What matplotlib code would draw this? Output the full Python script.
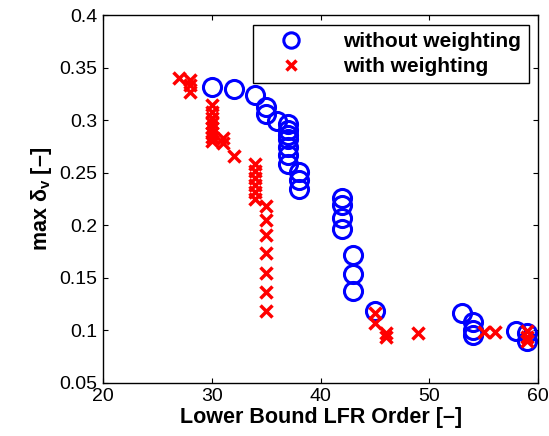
import numpy as np
import matplotlib.pyplot as plt

plt.rcParams['font.family'] = ['Liberation Sans', 'DejaVu Sans']
plt.rcParams['mathtext.fontset'] = 'custom'
plt.rcParams['mathtext.rm'] = 'Liberation Sans:bold'
plt.rcParams['mathtext.it'] = 'Liberation Sans:bold'
plt.rcParams['mathtext.bf'] = 'Liberation Sans:bold'

# without weighting (blue circles)
x_without = [30, 32, 34, 35, 35, 36,
             37, 37, 37, 37, 37, 37, 37,
             38, 38, 38,
             42, 42, 42, 42,
             43, 43, 43,
             45, 53, 54, 54, 54, 58, 59, 59]
y_without = [0.332, 0.330, 0.324, 0.313, 0.306, 0.299,
             0.296, 0.291, 0.286, 0.282, 0.275, 0.267, 0.258,
             0.251, 0.243, 0.235,
             0.226, 0.219, 0.207, 0.196,
             0.172, 0.154, 0.137,
             0.118, 0.116, 0.108, 0.100, 0.096, 0.099, 0.097, 0.090]

# with weighting (red crosses)
x_with = [27, 28, 28, 28,
          30, 30, 30, 30, 30, 30, 30, 30,
          31, 31, 32,
          34, 34, 34, 34, 34, 34,
          35, 35, 35, 35, 35, 35, 35,
          45, 45, 46, 46, 49, 55, 56, 59, 59, 59]
y_with = [0.340, 0.338, 0.334, 0.327,
          0.315, 0.308, 0.302, 0.297, 0.293, 0.288, 0.284, 0.280,
          0.283, 0.278, 0.266,
          0.258, 0.252, 0.245, 0.238, 0.232, 0.225,
          0.218, 0.205, 0.191, 0.174, 0.155, 0.136, 0.118,
          0.116, 0.107, 0.097, 0.094, 0.097, 0.098, 0.098, 0.099, 0.094, 0.090]

fig = plt.figure(figsize=(5.49, 4.36), dpi=100)
ax = fig.add_axes([0.188, 0.122, 0.792, 0.843])

ax.plot(x_without, y_without, 'o', color='blue', markerfacecolor='none',
        markersize=13, markeredgewidth=2.2, label='without weighting')
ax.plot(x_with, y_with, 'x', color='red',
        markersize=8, markeredgewidth=2.5, label='with weighting')

ax.set_xlim(20, 60)
ax.set_ylim(0.05, 0.4)
ax.set_xticks([20, 30, 40, 50, 60])
ax.set_yticks([0.05, 0.1, 0.15, 0.2, 0.25, 0.3, 0.35, 0.4])
ax.set_yticklabels(['0.05', '0.1', '0.15', '0.2', '0.25', '0.3', '0.35', '0.4'])
ax.tick_params(direction='in', top=True, right=True, labelsize=14, length=3.5, pad=4)
for s in ax.spines.values():
    s.set_linewidth(1.0)

ax.set_xlabel('Lower Bound LFR Order [–]', fontsize=15.5, fontweight='bold', labelpad=1)
ax.set_ylabel(r'max $\delta_v$ [–]', fontsize=15.5, fontweight='bold', labelpad=4)

leg = ax.legend(loc='upper right', prop={'weight': 'bold', 'size': 15},
                fancybox=False, edgecolor='black', framealpha=1,
                borderaxespad=0.45, handletextpad=1.0, borderpad=0.35,
                labelspacing=0.3, handlelength=3.0, markerscale=0.85)
leg.get_frame().set_linewidth(1.0)

fig.savefig('out.png', dpi=100)
